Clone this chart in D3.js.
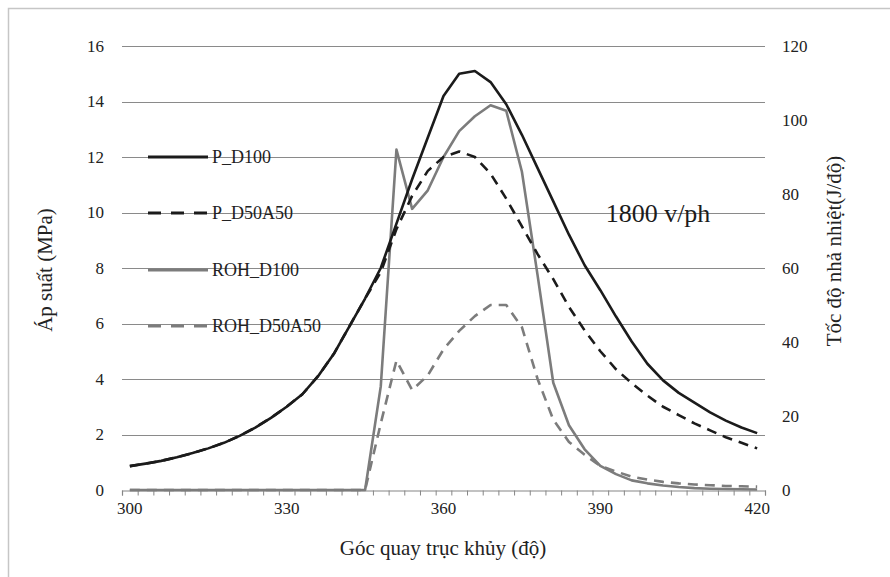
<!DOCTYPE html>
<html>
<head>
<meta charset="utf-8">
<script src="https://cdn.jsdelivr.net/npm/d3@7"></script>
<style>
  body { margin: 0; background: #fff; }
</style>
</head>
<body>
<svg id="chart" width="890" height="577"></svg>
<script>
// ****** Data (crank angle every 3 deg)
var angles = d3.range(300, 421, 3);
var pD100 = [0.86, 0.95, 1.05, 1.18, 1.33, 1.5, 1.7, 1.95, 2.25, 2.6, 3.0, 3.45, 4.1, 4.9, 5.9, 6.9,
	8.0, 9.6, 11.2, 12.7, 14.2, 15.0, 15.1, 14.7, 13.9, 12.8, 11.6, 10.4, 9.2, 8.1, 7.2, 6.25,
	5.35, 4.55, 3.95, 3.5, 3.15, 2.8, 2.5, 2.25, 2.05];
var pD50A50 = [0.86, 0.95, 1.05, 1.18, 1.33, 1.5, 1.7, 1.95, 2.25, 2.6, 3.0, 3.45, 4.1, 4.9, 5.9, 6.9,
	7.85, 9.4, 10.6, 11.5, 12.0, 12.2, 12.0, 11.4, 10.5, 9.5, 8.5, 7.6, 6.6, 5.75, 5.0, 4.35,
	3.85, 3.4, 3.0, 2.7, 2.4, 2.15, 1.9, 1.7, 1.5];
var rohD100 = [0, 0, 0, 0, 0, 0, 0, 0, 0, 0, 0, 0, 0, 0, 0, 0,
	28, 92, 76, 81, 90, 97, 101, 104, 102.5, 86, 58, 29, 17.5, 11, 6.5, 4.3,
	2.6, 1.8, 1.2, 0.8, 0.5, 0.35, 0.25, 0.2, 0.15];
var rohD50A50 = [0, 0, 0, 0, 0, 0, 0, 0, 0, 0, 0, 0, 0, 0, 0, 0,
	18, 35, 27, 31, 38, 43, 47, 50, 50, 44, 30, 19, 13, 9.5, 6.5, 5,
	3.6, 2.8, 2.2, 1.8, 1.5, 1.3, 1.1, 1.0, 0.9];
var leftTicks = [0, 2, 4, 6, 8, 10, 12, 14, 16];
var rightTicks = [0, 20, 40, 60, 80, 100, 120];
var xLabels = [300, 330, 360, 390, 420];

var series = [
	{name: 'P_D100', values: pD100, axis: 'L', color: '#1b1b1b', dash: null},
	{name: 'P_D50A50', values: pD50A50, axis: 'L', color: '#1b1b1b', dash: '10,7'},
	{name: 'ROH_D100', values: rohD100, axis: 'R', color: '#7c7c7c', dash: null},
	{name: 'ROH_D50A50', values: rohD50A50, axis: 'R', color: '#7c7c7c', dash: '10,7'}
];

// ****** Layout
var svg = d3.select('#chart');
var plot = {left: 122, right: 765, top: 46, bottom: 490};
var serif = 'Liberation Serif';

// outer frame
svg.append('rect')
	.attr('x', 8.5).attr('y', 8.5)
	.attr('width', 900).attr('height', 600)
	.attr('fill', 'none').attr('stroke', '#c6c6c6').attr('stroke-width', 1.5);

// categories sit between tick marks, like the original spreadsheet chart
var x = d3.scaleLinear().domain([298.5, 421.5]).range([plot.left, plot.right]);
var yL = d3.scaleLinear().domain([0, 16]).range([plot.bottom, plot.top]);
var yR = d3.scaleLinear().domain([0, 120]).range([plot.bottom, plot.top]);

// gridlines
svg.append('g').selectAll('line')
	.data(leftTicks.filter(function(d) { return d > 0; }))
	.join('line')
	.attr('x1', plot.left).attr('x2', plot.right)
	.attr('y1', function(d) { return Math.round(yL(d)) + 0.5; })
	.attr('y2', function(d) { return Math.round(yL(d)) + 0.5; })
	.attr('stroke', '#8a8a8a').attr('stroke-width', 1);

// left axis labels
svg.append('g').selectAll('text')
	.data(leftTicks)
	.join('text')
	.attr('x', 104).attr('y', function(d) { return yL(d) + 5.5; })
	.attr('text-anchor', 'end')
	.attr('font-family', serif)
	.attr('font-size', 17).attr('fill', '#222')
	.text(function(d) { return d; });

// right axis labels
svg.append('g').selectAll('text')
	.data(rightTicks)
	.join('text')
	.attr('x', 782).attr('y', function(d) { return yR(d) + 5.5; })
	.attr('text-anchor', 'start')
	.attr('font-family', serif)
	.attr('font-size', 17).attr('fill', '#222')
	.text(function(d) { return d; });

// x axis
var xAxis = d3.axisBottom(x)
	.tickValues(d3.range(298.5, 422, 3))
	.tickSize(5)
	.tickFormat('');
var xg = svg.append('g')
	.attr('transform', 'translate(0,' + (plot.bottom + 0.5) + ')')
	.call(xAxis);
xg.select('.domain').attr('stroke', '#868686').attr('stroke-width', 1.2);
xg.selectAll('.tick line').attr('stroke', '#868686');

svg.append('g').selectAll('text')
	.data(xLabels)
	.join('text')
	.attr('x', function(d) { return x(d); })
	.attr('y', 514)
	.attr('text-anchor', 'middle')
	.attr('font-family', serif)
	.attr('font-size', 17).attr('fill', '#222')
	.text(function(d) { return d; });

// axis titles
svg.append('text')
	.attr('transform', 'translate(52,270) rotate(-90)')
	.attr('text-anchor', 'middle')
	.attr('font-family', serif)
	.attr('font-size', 21).attr('fill', '#222')
	.text('Áp suất (MPa)');
svg.append('text')
	.attr('transform', 'translate(841,251) rotate(-90)')
	.attr('text-anchor', 'middle')
	.attr('font-family', serif)
	.attr('font-size', 21).attr('fill', '#222')
	.text('Tốc độ nhả nhiệt(J/độ)');
svg.append('text')
	.attr('x', 443).attr('y', 555)
	.attr('text-anchor', 'middle')
	.attr('font-family', serif)
	.attr('font-size', 21).attr('fill', '#222')
	.text('Góc quay trục khủy (độ)');

// ****** Series
var lineL = d3.line().x(function(d, i) { return x(angles[i]); }).y(function(d) { return yL(d); });
var lineR = d3.line().x(function(d, i) { return x(angles[i]); }).y(function(d) { return yR(d); });

// draw gray first so black pressure lines sit on top
[2, 3, 1, 0].forEach(function(k) {
	var s = series[k];
	svg.append('path')
		.datum(s.values)
		.attr('d', s.axis === 'L' ? lineL : lineR)
		.attr('fill', 'none')
		.attr('stroke', s.color)
		.attr('stroke-width', 2.6)
		.attr('stroke-linejoin', 'round')
		.attr('stroke-dasharray', s.dash);
});

// ****** Legend
var legendY = [157, 213, 270, 326];
var lg = svg.append('g');
series.forEach(function(s, i) {
	lg.append('line')
		.attr('x1', 148).attr('x2', 208)
		.attr('y1', legendY[i]).attr('y2', legendY[i])
		.attr('stroke', s.color).attr('stroke-width', 2.8)
		.attr('stroke-dasharray', s.dash ? '13,10' : null);
	lg.append('text')
		.attr('x', 212).attr('y', legendY[i] + 6)
		.attr('font-family', serif)
		.attr('font-size', 18).attr('fill', '#222')
		.text(s.name);
});

svg.append('text')
	.attr('x', 658).attr('y', 222)
	.attr('text-anchor', 'middle')
	.attr('font-family', serif)
	.attr('font-size', 26).attr('fill', '#1b1b1b')
	.text('1800 v/ph');
</script>
</body>
</html>
